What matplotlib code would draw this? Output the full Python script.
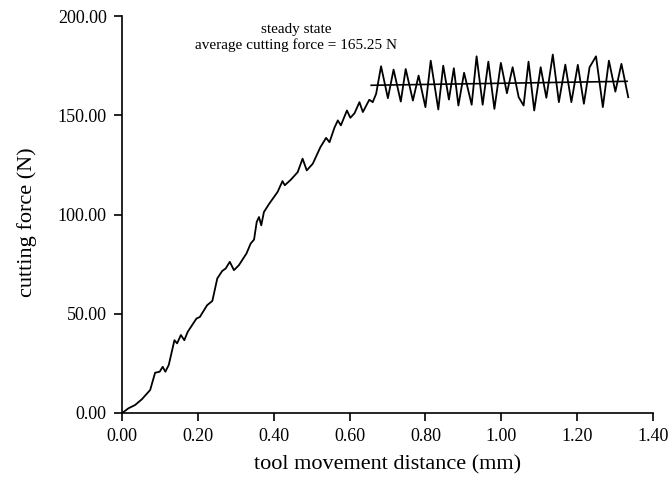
import matplotlib.pyplot as plt

plt.rcParams['font.family'] = ['Liberation Serif', 'DejaVu Serif']

# cutting force curve (distance in mm, force in N)
distance = [0.000, 0.017, 0.034, 0.052, 0.074, 0.087, 0.099, 0.107, 0.114, 0.123,
            0.138, 0.145, 0.155, 0.164, 0.173, 0.196, 0.205, 0.224, 0.238, 0.251,
            0.264, 0.273, 0.284, 0.295, 0.308, 0.328, 0.339, 0.348, 0.355, 0.361,
            0.367, 0.374, 0.388, 0.410, 0.423, 0.429, 0.445, 0.463, 0.476, 0.487,
            0.503, 0.523, 0.538, 0.547, 0.560, 0.569, 0.577, 0.593, 0.602, 0.613,
            0.626, 0.635, 0.644, 0.652, 0.661, 0.670,
            0.683, 0.701, 0.716, 0.735, 0.748, 0.767, 0.782, 0.800, 0.814, 0.834,
            0.847, 0.862, 0.875, 0.887, 0.902, 0.922, 0.935, 0.951, 0.966, 0.982,
            0.999, 1.015, 1.030, 1.046, 1.059, 1.072, 1.087, 1.104, 1.119, 1.136,
            1.152, 1.169, 1.185, 1.202, 1.218, 1.233, 1.250, 1.268, 1.284, 1.301,
            1.317, 1.335]
force = [0.0, 2.4, 4.0, 6.9, 11.6, 20.3, 20.8, 23.3, 20.8, 24.2,
         36.7, 35.1, 39.3, 36.7, 40.9, 47.6, 48.4, 54.3, 56.5, 67.8,
         71.6, 72.8, 76.2, 72.0, 74.5, 80.4, 85.4, 87.4, 96.3, 98.8,
         94.6, 101.3, 105.5, 111.4, 116.9, 114.8, 117.6, 121.4, 128.2, 122.3,
         125.7, 134.0, 138.7, 136.5, 143.8, 147.5, 145.0, 152.5, 148.8, 151.1,
         156.7, 151.7, 155.0, 157.9, 156.7, 160.9,
         174.8, 158.7, 173.1, 157.0, 173.4, 157.5, 170.1, 154.2, 177.6, 153.0,
         175.1, 158.0, 173.8, 155.0, 171.5, 155.4, 179.8, 155.4, 177.1, 153.3,
         176.5, 161.2, 174.3, 159.2, 155.0, 177.1, 152.5, 174.3, 158.9, 180.7,
         156.7, 175.6, 156.7, 175.5, 155.9, 174.3, 179.8, 154.2, 177.6, 162.0,
         176.0, 159.2]

# steady state average line
avg_x = [0.657, 1.332]
avg_y = [165.2, 167.2]

fig = plt.figure(figsize=(6.71, 4.78), dpi=100)
ax = fig.add_axes([0.182, 0.136, 0.791, 0.830])

ax.plot(distance, force, color='black', lw=1.3)
ax.plot(avg_x, avg_y, color='black', lw=1.2)

ax.set_xlim(0, 1.40)
ax.set_ylim(0, 200)
ax.set_xticks([0.0, 0.2, 0.4, 0.6, 0.8, 1.0, 1.2, 1.4])
ax.set_yticks([0, 50, 100, 150, 200])
ax.xaxis.set_major_formatter(plt.FormatStrFormatter('%.2f'))
ax.yaxis.set_major_formatter(plt.FormatStrFormatter('%.2f'))
ax.tick_params(direction='out', length=6, width=1.2, labelsize=13, pad=5)
for s in ['left', 'bottom']:
    ax.spines[s].set_linewidth(1.2)

ax.spines['top'].set_visible(False)
ax.spines['right'].set_visible(False)

ax.set_xlabel('tool movement distance (mm)', fontsize=16, labelpad=7)
ax.set_ylabel('cutting force (N)', fontsize=16)
ax.yaxis.set_label_coords(-0.16, 0.48)

ax.text(0.458, 193.3, 'steady state', ha='center', va='center', fontsize=11)
ax.text(0.458, 185.7, 'average cutting force = 165.25 N', ha='center', va='center', fontsize=11)

fig.savefig('out.png', dpi=100)
